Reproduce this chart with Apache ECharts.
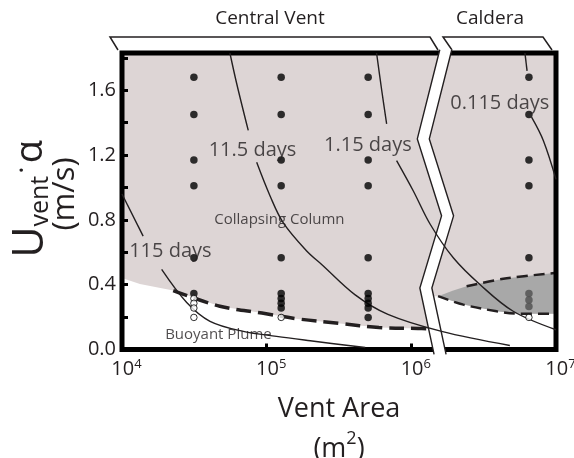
<!DOCTYPE html>
<html>
<head>
<meta charset="utf-8">
<script src="https://cdn.jsdelivr.net/npm/echarts@6/dist/echarts.min.js"></script>
<style>html,body{margin:0;padding:0;background:#fff}#c{width:574px;height:458px}</style>
</head>
<body>
<div id="c"></div>
<script>
// ---------- data ----------
const xTicks = [1e4, 1e5, 1e6, 1e7];
const yTicks = [0.0, 0.4, 0.8, 1.2, 1.6];
const colX = [3.14e4, 1.26e5, 5.03e5, 6.5e6];          // vent areas of simulations
const upperRows = [1.68, 1.45, 1.17, 1.01, 0.566];       // collapsing in every column
const col1Filled = [0.345];
const col1Open = [0.315, 0.285, 0.256, 0.198];
const col2Filled = [0.345, 0.315, 0.285, 0.256];
const col2Open = [0.198];
const col3Filled = [0.345, 0.315, 0.285, 0.256, 0.198];
const col4Partial = [0.345, 0.305, 0.265];
const col4Open = [0.198];

// collapse / buoyant boundary (central vent)
const centralBoundary = [[1e4, 0.442], [1.33e4, 0.405], [2.26e4, 0.364], [4.75e4, 0.267], [9.27e4, 0.225],
  [1.64e5, 0.189], [3.21e5, 0.161], [5.97e5, 0.136], [1.11e6, 0.130], [1.30e6, 0.128], [1.41e6, 0.128]];
const centralDashed = [[2.26e4, 0.364], [4.75e4, 0.267], [9.27e4, 0.225], [1.64e5, 0.189],
  [3.21e5, 0.161], [5.97e5, 0.136], [1.11e6, 0.130], [1.30e6, 0.128]];
// caldera partial-collapse field
const calderaLower = [[1.53e6, 0.329], [2.29e6, 0.277], [3.89e6, 0.236], [5.48e6, 0.221], [1e7, 0.22]];
const calderaUpper = [[1.53e6, 0.329], [1.95e6, 0.364], [2.41e6, 0.39], [4.32e6, 0.436], [1e7, 0.473]];
const calderaUpperDashed = [[2.41e6, 0.39], [4.32e6, 0.436], [1e7, 0.473]];

// eruption-duration contours (two pieces each, split by the label)
const c115a = [[1.0e4, 0.96], [1.40e4, 0.70]];
const c115b = [[1.88e4, 0.494], [2.8e4, 0.29], [4.06e4, 0.174], [6.9e4, 0.112], [1.17e5, 0.081], [2.0e5, 0.054], [4.8e5, 0.012]];
const c11_5a = [[5.57e4, 1.83], [6.21e4, 1.64], [7.46e4, 1.352]];
const c11_5b = [[8.53e4, 1.155], [1.054e5, 0.949], [1.30e5, 0.783], [1.89e5, 0.608], [2.40e5, 0.525],
  [4.07e5, 0.339], [6.89e5, 0.217], [1.62e6, 0.112], [4.80e6, 0.025]];
const c1_15a = [[5.75e5, 1.83], [6.24e5, 1.60], [6.75e5, 1.393]];
const c1_15b = [[7.91e5, 1.166], [1.03e6, 0.98], [1.35e6, 0.773], [1.95e6, 0.566], [2.98e6, 0.401], [5.06e6, 0.236], [1.0e7, 0.122]];
const c0_115a = [[6.10e6, 1.83], [6.31e6, 1.72]];
const c0_115b = [[6.78e6, 1.434], [8.17e6, 1.29], [1.0e7, 1.05]];

// contour / region labels
const labelNames = ['115 days', '11.5 days', '1.15 days', '0.115 days'];
const labelPos = [[2.16e4, 0.604], [7.98e4, 1.231], [5.01e5, 1.262], [4.09e6, 1.522]];
const regionNames = ['Collapsing Column', 'Buoyant Plume'];
const regionPos = [[1.225e5, 0.804], [4.64e4, 0.09]];

// axis break (zig-zag) centre line
const breakX = [1.73e6, 1.21e6, 1.78e6, 1.26e6, 1.58e6];
const breakY = [1.85, 1.30, 0.825, 0.38, -0.03];

// ---------- chart ----------
const FONT = '"Open Sans", sans-serif';
const TXT = '#231f20';
const PINK = '#ddd5d5';
const GRAY = '#a8a8a8';
const G = { left: 122, right: 18, top: 53, bottom: 108.5 };
const W = 574, H = 458;

function pts(xs, ys) { return ys.map(function (y) { return [xs, y]; }); }

function polygonSeries(poly, fill, z) {
  return {
    type: 'custom', z: z, silent: true, clip: true,
    data: [poly[0]],
    renderItem: function (params, api) {
      return { type: 'polygon', shape: { points: poly.map(function (p) { return api.coord(p); }) },
               style: { fill: fill, stroke: null } };
    }
  };
}

const pinkPoly = centralBoundary.concat([[1.41e6, 0.329]], calderaLower, [[1e7, 1.83], [1e4, 1.83]]);
const grayPoly = calderaUpper.concat(calderaLower.slice().reverse());

function lineSeries(data, width, dash, z) {
  return { type: 'line', data: data, smooth: 0.35, symbol: 'none', z: z, silent: true,
           lineStyle: { color: TXT, width: width, type: dash || 'solid' } };
}

const filled = [];
colX.forEach(function (x) { upperRows.forEach(function (y) { filled.push([x, y]); }); });
col1Filled.forEach(function (y) { filled.push([colX[0], y]); });
col2Filled.forEach(function (y) { filled.push([colX[1], y]); });
col3Filled.forEach(function (y) { filled.push([colX[2], y]); });
const open = pts(colX[0], col1Open).concat(pts(colX[1], col2Open), pts(colX[3], col4Open));
const partial = pts(colX[3], col4Partial);

const breakSeries = {
  type: 'custom', z: 60, silent: true, clip: false,
  data: [[breakX[0], breakY[0]]],
  renderItem: function (params, api) {
    const c = breakX.map(function (x, i) { return api.coord([x, breakY[i]]); });
    const hw = 6;
    const left = c.map(function (p) { return [p[0] - hw, p[1]]; });
    const right = c.map(function (p) { return [p[0] + hw, p[1]]; });
    return { type: 'group', children: [
      { type: 'polygon', shape: { points: left.concat(right.slice().reverse()) }, style: { fill: '#fff', stroke: null } },
      { type: 'polyline', shape: { points: left }, style: { stroke: TXT, lineWidth: 1.4, fill: null } },
      { type: 'polyline', shape: { points: right }, style: { stroke: TXT, lineWidth: 1.4, fill: null } }
    ] };
  }
};

const chart = echarts.init(document.getElementById('c'), null, { renderer: 'canvas' });
chart.setOption({
  animation: false,
  backgroundColor: '#fff',
  grid: { left: G.left, right: G.right, top: G.top, bottom: G.bottom, show: false,
          containLabel: false, outerBoundsMode: 'none' },
  xAxis: {
    type: 'log', logBase: 10, min: xTicks[0], max: xTicks[xTicks.length - 1], z: 55,
    axisLine: { show: false }, splitLine: { show: false }, minorTick: { show: false },
    axisTick: { show: true, inside: true, length: 6, lineStyle: { color: '#000', width: 3 } },
    axisLabel: {
      margin: 8,
      formatter: function (v) { return '{b|10}{s|' + Math.round(Math.log10(v)) + '}'; },
      rich: {
        b: { fontSize: 20, fontFamily: FONT, color: TXT, padding: [0, 0, 0, 9], lineHeight: 24 },
        s: { fontSize: 13, fontFamily: FONT, color: TXT, verticalAlign: 'top', lineHeight: 14 }
      }
    },
    name: '{t|Vent Area}\n{t|(m}{s|2}{t|)}',
    nameLocation: 'middle', nameGap: 40,
    nameTextStyle: {
      rich: {
        t: { fontSize: 27, fontFamily: FONT, color: TXT, lineHeight: 40 },
        s: { fontSize: 18, fontFamily: FONT, color: TXT, verticalAlign: 'top', lineHeight: 22 }
      }
    }
  },
  yAxis: {
    type: 'value', min: 0, max: 1.83, interval: 0.2, z: 55,
    axisLine: { show: false }, splitLine: { show: false },
    axisTick: { show: true, inside: true, length: 6, lineStyle: { color: '#000', width: 3 } },
    axisLabel: {
      margin: 6, fontSize: 20, fontFamily: FONT, color: TXT,
      formatter: function (v) {
        return yTicks.some(function (t) { return Math.abs(t - v) < 1e-6; }) ? v.toFixed(1) : '';
      }
    }
  },
  graphic: [
    { type: 'rect', z: 50, silent: true,
      shape: { x: G.left, y: G.top, width: W - G.left - G.right, height: H - G.top - G.bottom },
      style: { fill: null, stroke: '#000', lineWidth: 5 } },
    { type: 'polyline', shape: { points: [[118, 50], [110, 37], [430, 37], [438, 50]] }, style: { stroke: TXT, lineWidth: 1.5, fill: null } },
    { type: 'polyline', shape: { points: [[452, 50], [443, 37], [543, 37], [552, 50]] }, style: { stroke: TXT, lineWidth: 1.5, fill: null } },
    { type: 'text', x: 270, y: 19, style: { text: 'Central Vent', fontSize: 19, fontFamily: FONT, fill: TXT, align: 'center', verticalAlign: 'middle' } },
    { type: 'text', x: 490, y: 19, style: { text: 'Caldera', fontSize: 19, fontFamily: FONT, fill: TXT, align: 'center', verticalAlign: 'middle' } },
    { type: 'text', x: 31, y: 199, rotation: Math.PI / 2,
      style: { text: '{u|U}{v|vent}{d|·}{a|α}', align: 'center', verticalAlign: 'middle',
        rich: {
          u: { fontSize: 43, fontFamily: FONT, fill: TXT, color: TXT, lineHeight: 44 },
          v: { fontSize: 25, fontFamily: FONT, fill: TXT, color: TXT, verticalAlign: 'bottom', lineHeight: 25, padding: [0, 2, 0, 0] },
          d: { fontSize: 28, fontFamily: FONT, fill: TXT, color: TXT, verticalAlign: 'top', lineHeight: 30, padding: [0, 3, 0, 0] },
          a: { fontSize: 38, fontFamily: FONT, fill: TXT, color: TXT, lineHeight: 40 }
        } } },
    { type: 'text', x: 65, y: 194, rotation: Math.PI / 2,
      style: { text: '(m/s)', fontSize: 31, fontFamily: FONT, fill: TXT, align: 'center', verticalAlign: 'middle' } }
  ],
  series: [
    polygonSeries(pinkPoly, PINK, 1),
    polygonSeries(grayPoly, GRAY, 1.5),
    lineSeries(centralDashed, 3.5, [15, 7], 3),
    lineSeries(calderaLower, 2.5, [11, 6], 3),
    lineSeries(calderaUpperDashed, 2.5, [11, 6], 3),
    breakSeries,
    lineSeries(c115a, 1.4, null, 70), lineSeries(c115b, 1.4, null, 70),
    lineSeries(c11_5a, 1.4, null, 70), lineSeries(c11_5b, 1.4, null, 70),
    lineSeries(c1_15a, 1.4, null, 70), lineSeries(c1_15b, 1.4, null, 70),
    lineSeries(c0_115a, 1.4, null, 70), lineSeries(c0_115b, 1.4, null, 70),
    { type: 'scatter', data: filled, symbol: 'circle', symbolSize: 7.5, z: 80, silent: true, itemStyle: { color: '#000' } },
    { type: 'scatter', data: partial, symbol: 'circle', symbolSize: 7.5, z: 80, silent: true, itemStyle: { color: '#4d4d4d' } },
    { type: 'scatter', data: open, symbol: 'circle', symbolSize: 6.5, z: 80, silent: true, itemStyle: { color: '#fff', borderColor: '#000', borderWidth: 1 } },
    { type: 'scatter', z: 90, silent: true, symbolSize: 0,
      data: labelNames.map(function (n, i) { return { name: n, value: labelPos[i] }; }),
      label: { show: true, position: 'inside', formatter: '{b}', fontSize: 20, fontFamily: FONT, color: TXT } },
    { type: 'scatter', z: 90, silent: true, symbolSize: 0,
      data: regionNames.map(function (n, i) { return { name: n, value: regionPos[i] }; }),
      label: { show: true, position: 'inside', formatter: '{b}', fontSize: 15, fontFamily: FONT, color: TXT } }
  ]
});
</script>
</body>
</html>
